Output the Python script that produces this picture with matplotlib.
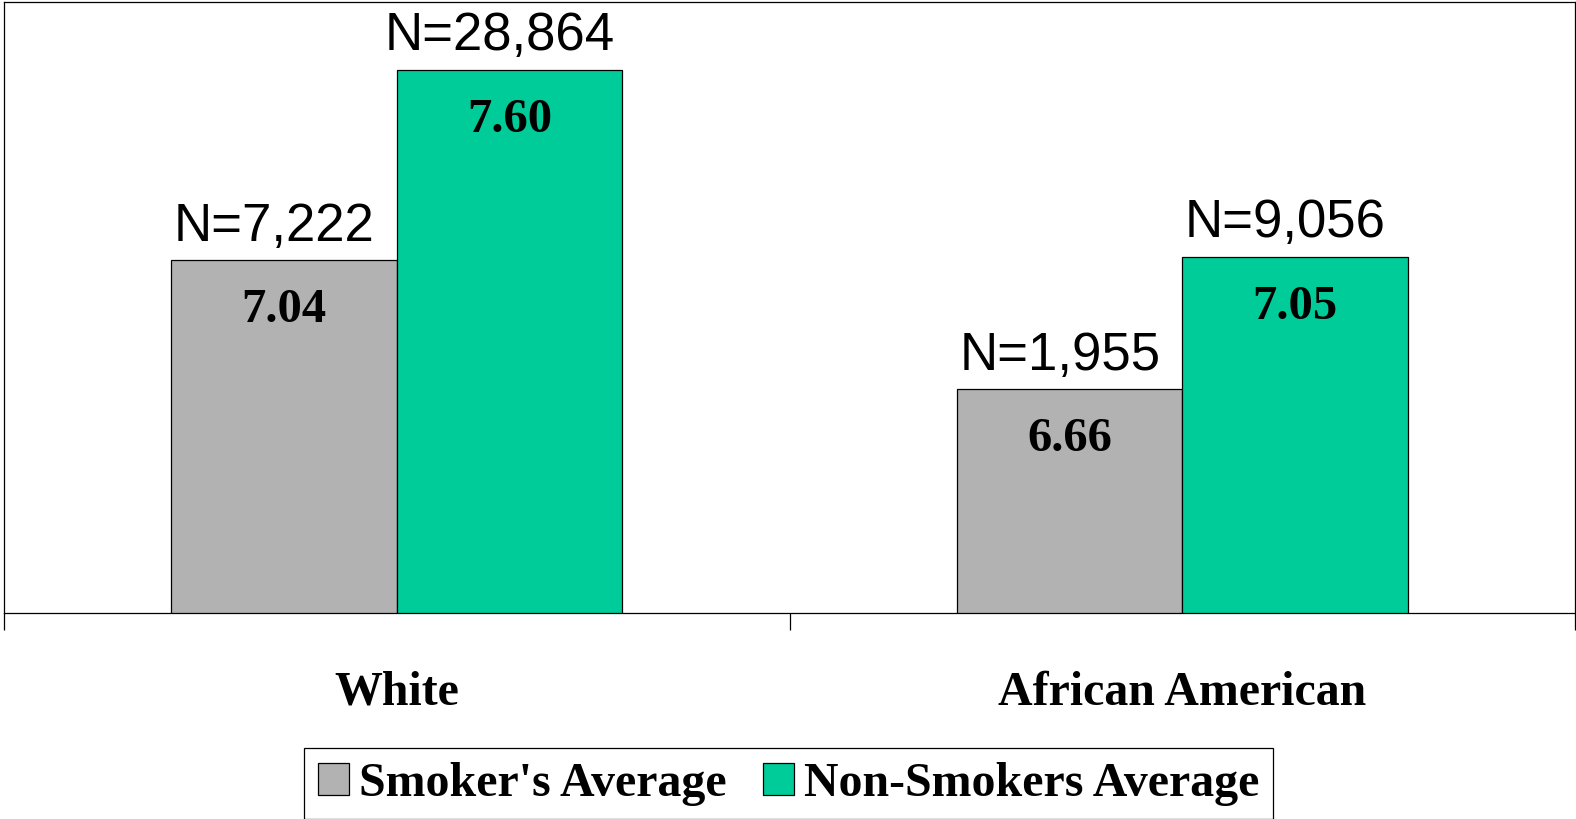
import matplotlib
matplotlib.use('Agg')
import matplotlib.pyplot as plt
import numpy as np

groups = ['White', 'African American']
series_names = ["Smoker's Average", 'Non-Smokers Average']
smoker_avg = [7.04, 6.66]
nonsmoker_avg = [7.60, 7.05]
smoker_n = ['N=7,222', 'N=1,955']
nonsmoker_n = ['N=28,864', 'N=9,056']
colors = ['#b2b2b2', '#00cc99']

SERIF = 'Liberation Serif'
SANS = 'Liberation Sans'

fig = plt.figure(figsize=(15.76, 8.19), dpi=100)
ax = fig.add_axes([4 / 1576, 206 / 819, 1571 / 1576, 611 / 819])

x = np.arange(len(groups))
w = 0.287
b1 = ax.bar(x - w / 2, smoker_avg, w, bottom=0, color=colors[0], edgecolor='black',
            linewidth=0.9, label=series_names[0])
b2 = ax.bar(x + w / 2, nonsmoker_avg, w, color=colors[1], edgecolor='black',
            linewidth=0.9, label=series_names[1])

ax.set_xlim(-0.5, 1.5)
ax.set_ylim(6.0, 7.8)

for bars, vals, ns in [(b1, smoker_avg, smoker_n), (b2, nonsmoker_avg, nonsmoker_n)]:
    for rect, v, n in zip(bars, vals, ns):
        cx = rect.get_x() + rect.get_width() / 2
        # sample size above the bar
        ax.annotate(n, xy=(cx, v), xytext=(-7, 14), textcoords='offset points',
                    ha='center', va='baseline', fontsize=38, family=SANS)
        # mean inside the bar
        ax.annotate('%.2f' % v, xy=(cx, v), xytext=(0, -45), textcoords='offset points',
                    ha='center', va='baseline', fontsize=35, family=SERIF,
                    fontweight='bold')

for i, g in enumerate(groups):
    ax.annotate(g, xy=(i, 0), xycoords=('data', 'axes fraction'), xytext=(0, -66),
                textcoords='offset points', ha='center', va='baseline',
                fontsize=34.5, family=SERIF, fontweight='bold')

ax.set_yticks([])
ax.set_xticks([-0.5, 0.5, 1.5])
ax.set_xticklabels([])
ax.tick_params(axis='x', length=12, width=0.9, direction='out')
for s in ax.spines.values():
    s.set_linewidth(0.9)

leg = fig.legend(loc='lower center', bbox_to_anchor=(0.5003, 0.0), ncol=2,
                 prop={'family': SERIF, 'weight': 'bold', 'size': 34.5},
                 handlelength=0.66, handleheight=0.66, handletextpad=0.2,
                 columnspacing=0.75, borderpad=0.28, borderaxespad=0,
                 fancybox=False, framealpha=1, edgecolor='black')
leg.get_frame().set_linewidth(0.9)

fig.savefig('out.png', dpi=100)
